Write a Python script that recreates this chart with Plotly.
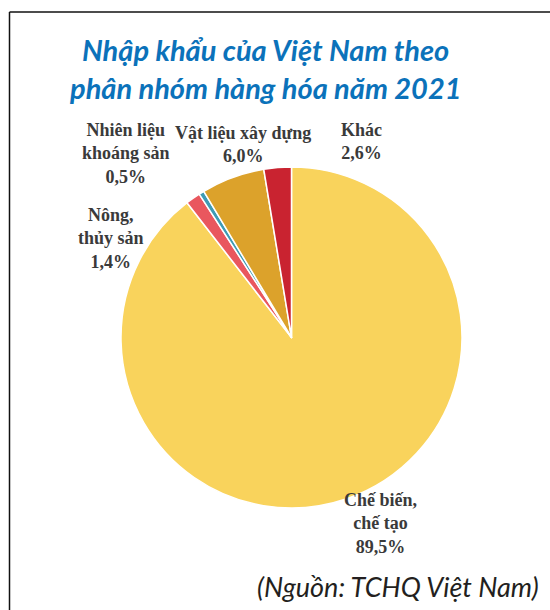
import plotly.graph_objects as go

# Import structure by commodity group, 2021 (% of total)
categories = ["Chế biến, chế tạo", "Nông, thủy sản", "Nhiên liệu, khoáng sản",
              "Vật liệu xây dựng", "Khác"]
label_text = ["Chế biến,<br>chế tạo", "Nông,<br>thủy sản", "Nhiên liệu<br>khoáng sản",
              "Vật liệu xây dựng", "Khác"]
shares = [89.5, 1.4, 0.5, 6.0, 2.6]
colors = ["#F9D35C", "#E9575E", "#3E9BB5", "#DCA22B", "#C92330"]

# label anchor points (pixels from top-left of the 550x610 canvas)
label_pos = [(380, 523), (111, 238), (126, 154), (243, 145), (361, 141)]

W, H = 550, 610

fig = go.Figure()
fig.add_trace(go.Pie(
    labels=categories,
    values=shares,
    sort=False,
    direction="clockwise",
    rotation=0,
    marker=dict(colors=colors, line=dict(color="white", width=1.5)),
    textinfo="none",
    hoverinfo="label+percent",
    showlegend=False,
    domain=dict(x=[121 / W, 462 / W], y=[1 - 508 / H, 1 - 167 / H]),
))

annotations = []
for txt, v, (px, py) in zip(label_text, shares, label_pos):
    pct = f"{v:.1f}".replace(".", ",") + "%"
    annotations.append(dict(
        x=px / W, y=1 - py / H, xref="paper", yref="paper",
        text=f"<b>{txt}<br>{pct}</b>", showarrow=False, align="center",
        xanchor="center", yanchor="middle",
        font=dict(family="Liberation Serif", size=18, color="#3A3A3A"),
    ))

# title, two lines
for line, py in [("<b><i>Nhập khẩu của Việt Nam theo</i></b>", 50),
                 ("<b><i>phân nhóm hàng hóa năm 2021</i></b>", 88)]:
    annotations.append(dict(
        x=265 / W, y=1 - py / H, xref="paper", yref="paper", text=line,
        showarrow=False, xanchor="center", yanchor="middle",
        font=dict(family="Lato", size=29, color="#0B72BA"),
    ))

# source note
annotations.append(dict(
    x=541 / W, y=1 - 586 / H, xref="paper", yref="paper",
    text="<i>(Nguồn: TCHQ Việt Nam)</i>", showarrow=False,
    xanchor="right", yanchor="middle",
    font=dict(family="Lato", size=27, color="#231F20"),
))

# open frame: top and left borders
shapes = [
    dict(type="line", xref="paper", yref="paper", x0=9.5 / W, x1=1, y0=1 - 12 / H, y1=1 - 12 / H,
         line=dict(color="#111111", width=1.5)),
    dict(type="line", xref="paper", yref="paper", x0=9.5 / W, x1=9.5 / W, y0=0, y1=1 - 12 / H,
         line=dict(color="#111111", width=1.5)),
]

fig.update_layout(
    width=W, height=H,
    margin=dict(l=0, r=0, t=0, b=0),
    paper_bgcolor="white", plot_bgcolor="white",
    annotations=annotations, shapes=shapes,
)

fig.write_html("out.html")
